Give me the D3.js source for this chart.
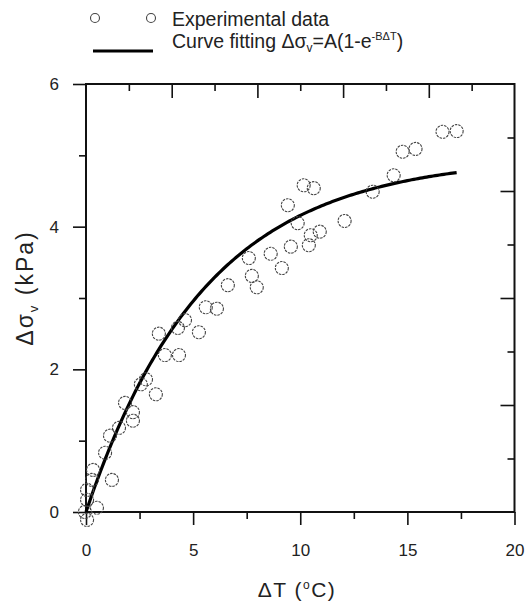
<!DOCTYPE html>
<html><head><meta charset="utf-8">
<script src="https://cdn.jsdelivr.net/npm/d3@7"></script>
<style>
html,body{margin:0;padding:0;background:#fff;}
text{font-family:"Liberation Sans",Arial,sans-serif;fill:#222;}
</style></head>
<body><svg id="c" width="527" height="605"></svg>
<script>
// Experimental data (ΔT in °C, Δσv in kPa)
const dT = [16.64,17.30,14.78,15.38,14.36,13.38,10.16,10.63,9.42,12.07,9.88,10.91,10.49,9.56,10.40,8.62,9.14,7.60,7.74,7.97,6.62,5.59,6.11,4.62,4.29,3.40,5.27,3.68,4.34,2.80,2.56,3.26,1.82,2.19,2.19,1.54,1.12,0.89,0.33,1.21,0.28,0.05,0.05,0.51,-0.05,0.05];
const dS = [5.33,5.34,5.05,5.09,4.72,4.49,4.58,4.54,4.30,4.08,4.05,3.93,3.88,3.72,3.74,3.62,3.42,3.56,3.31,3.15,3.18,2.87,2.85,2.69,2.58,2.50,2.52,2.20,2.20,1.86,1.79,1.65,1.53,1.40,1.28,1.18,1.07,0.83,0.59,0.45,0.45,0.31,0.17,0.06,0.00,-0.11];
// Fit parameters for Δσv = A(1 - e^(-BΔT))
const fitA = 4.98, fitB = 0.18, fitMax = 17.3;
// Tick values
const xMajor = [0,5,10,15,20];
const xMinor = [2.5,7.5,12.5,17.5];
const yMajor = [0,2,4,6];
const yMinor = [1,3,5];
const topMajor = [4,8,12,16];
const topMinor = [2,6,10,14,18];
const rightMajor = [1.5,3,4.5];
const rightMinor = [0.75,2.25,3.75,5.25];

const svg = d3.select("#c");
const x = d3.scaleLinear().domain([0,20]).range([86,514.5]);
const y = d3.scaleLinear().domain([0,6]).range([512,84]);

function ax(gen, vals, size, labels){
  const a = gen.tickValues(vals).tickSizeInner(size).tickSizeOuter(0).tickPadding(labels?10:0);
  if(!labels) a.tickFormat("");
  else a.tickFormat(d3.format("d"));
  return a;
}
function draw(a, tr){
  const g = svg.append("g").attr("transform", tr).call(a);
  g.select(".domain").remove();
  g.selectAll("line").attr("stroke","#111").attr("stroke-width",1.6);
  g.selectAll("text").attr("font-size",17).attr("fill","#222").attr("font-family","Liberation Sans, Arial, sans-serif");
  return g;
}
draw(ax(d3.axisBottom(x), xMajor, 13, true), "translate(0,512)").selectAll("text").attr("dy","1.25em");
draw(ax(d3.axisBottom(x), xMinor, 7, false), "translate(0,512)");
draw(ax(d3.axisLeft(y), yMajor, 13, true), "translate(86,0)").selectAll("text").attr("dx","-4");
draw(ax(d3.axisLeft(y), yMinor, 7, false), "translate(86,0)");
draw(ax(d3.axisTop(x), topMajor, -14, false), "translate(0,84)");
draw(ax(d3.axisTop(x), topMinor, -7, false), "translate(0,84)");
draw(ax(d3.axisRight(y), rightMajor, -14, false), "translate(514.5,0)");
draw(ax(d3.axisRight(y), rightMinor, -7, false), "translate(514.5,0)");

svg.append("rect").attr("x",x(0)).attr("y",y(6)).attr("width",x(20)-x(0)).attr("height",y(0)-y(6))
  .attr("fill","none").attr("stroke","#111").attr("stroke-width",2);

// fitted curve
const curvePts = d3.range(0, fitMax+0.001, 0.1).map(t=>[t, fitA*(1-Math.exp(-fitB*t))]);
svg.append("path").datum(curvePts)
  .attr("d", d3.line().x(d=>x(d[0])).y(d=>y(d[1])))
  .attr("fill","none").attr("stroke","#000").attr("stroke-width",3.2);

// points
svg.append("g").selectAll("circle").data(dT.map((t,i)=>[t,dS[i]])).join("circle")
  .attr("cx",d=>x(d[0])).attr("cy",d=>y(d[1])).attr("r",6.5)
  .attr("fill","none").attr("stroke","#444").attr("stroke-width",1.1).attr("stroke-dasharray","2.5 1");

// axis titles
const xl = svg.append("text").attr("x",297).attr("y",597).attr("text-anchor","middle").attr("font-size",21).attr("letter-spacing",1.5);
xl.append("tspan").text("ΔT (");
xl.append("tspan").text("o").attr("font-size",12).attr("dy",-8);
xl.append("tspan").text("C)").attr("dy",8);

const yl = svg.append("text").attr("transform","translate(33,288) rotate(-90)").attr("text-anchor","middle").attr("font-size",23).attr("letter-spacing",2);
yl.append("tspan").text("Δσ");
yl.append("tspan").text("v").attr("font-size",13).attr("dy",5);
yl.append("tspan").text(" (kPa)").attr("dy",-5);

// legend
const lg = svg.append("g");
lg.selectAll("circle").data([95,151]).join("circle").attr("cx",d=>d).attr("cy",18).attr("r",4.5)
  .attr("fill","none").attr("stroke","#444").attr("stroke-width",1.1);
lg.append("text").attr("x",172).attr("y",26).attr("font-size",19.5).text("Experimental data");
lg.append("line").attr("x1",93).attr("x2",153).attr("y1",51).attr("y2",51).attr("stroke","#000").attr("stroke-width",3);
const lt = lg.append("text").attr("x",172).attr("y",48).attr("font-size",19.5);
lt.append("tspan").text("Curve fitting Δσ");
lt.append("tspan").text("v").attr("font-size",12).attr("dy",4);
lt.append("tspan").text("=A(1-e").attr("dy",-4);
lt.append("tspan").text("-BΔT").attr("font-size",11).attr("dy",-8);
lt.append("tspan").text(")").attr("dy",8);
</script></body></html>
